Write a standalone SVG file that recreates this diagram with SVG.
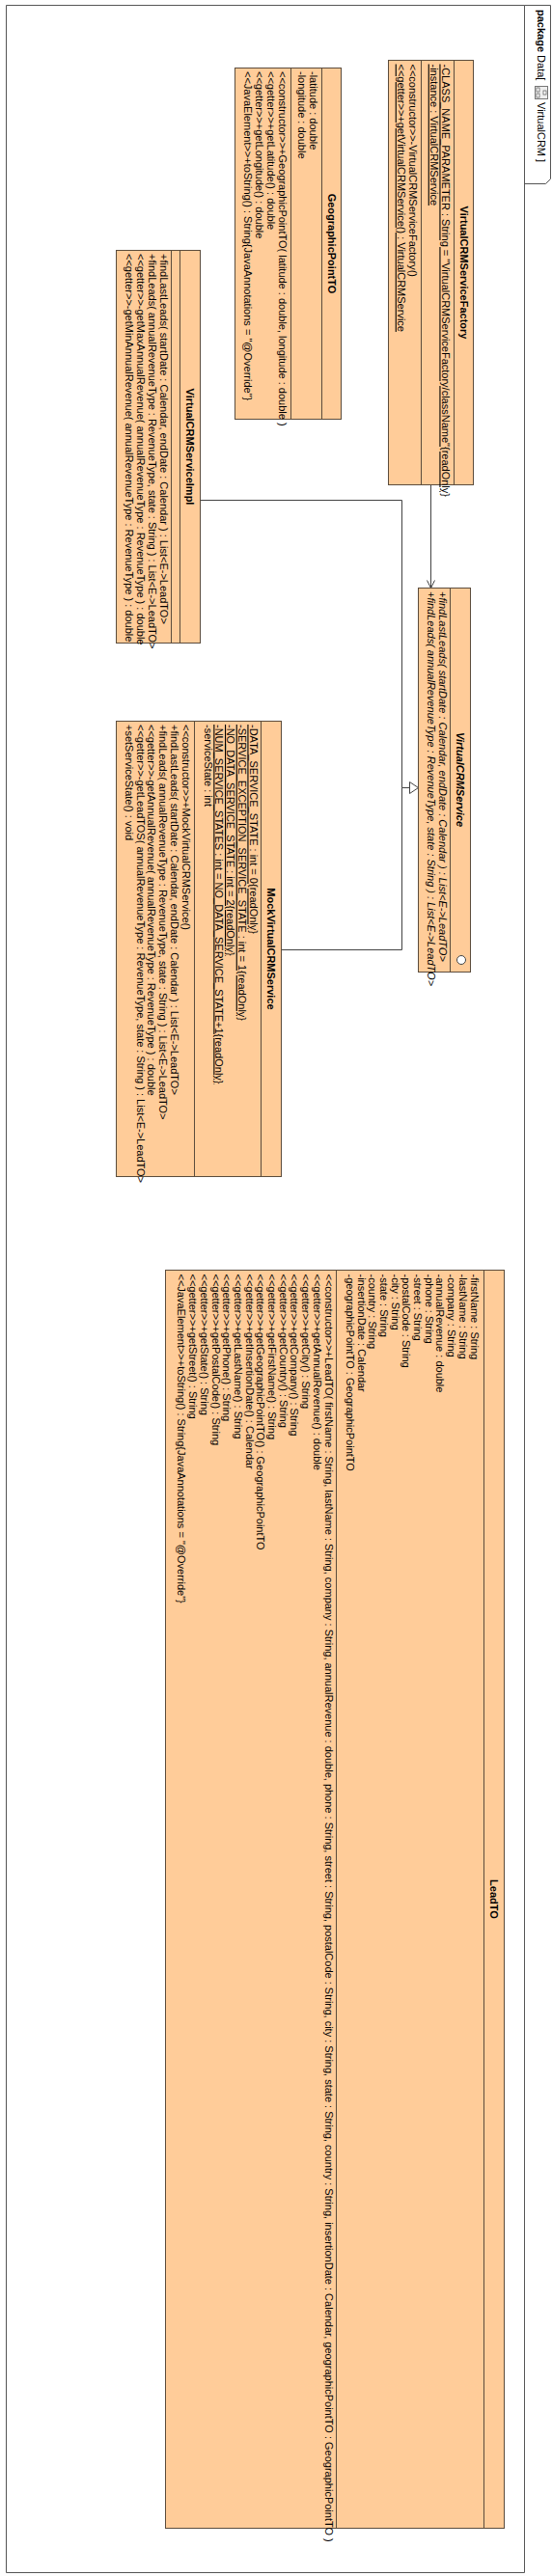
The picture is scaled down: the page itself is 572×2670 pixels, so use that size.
<svg xmlns="http://www.w3.org/2000/svg" width="572" height="2670" viewBox="0 0 572 2670">
<style>
.bg{fill:#fff}
.box{fill:#FFCC99;stroke:#5B4C3C;stroke-width:1}
.dv{stroke:#5B4C3C;stroke-width:1;fill:none}
.t{font-family:"Liberation Sans",Arial,sans-serif;font-size:11px;fill:#000}
.b{font-weight:bold}
.i{font-style:italic}
.u{text-decoration:underline}
.c{text-anchor:middle}
.ln{fill:none;stroke:#444;stroke-width:1}
.fr{fill:none;stroke:#555;stroke-width:1}
</style>
<defs>
<marker id="open" markerWidth="10" markerHeight="10" refX="9" refY="5" orient="auto" markerUnits="userSpaceOnUse">
<path d="M1,1 L9,5 L1,9" fill="none" stroke="#444" stroke-width="1"/>
</marker>
<marker id="tri" markerWidth="12" markerHeight="14" refX="10" refY="7" orient="auto" markerUnits="userSpaceOnUse">
<path d="M1,1 L10,7 L1,13 Z" fill="#fff" stroke="#444" stroke-width="1"/>
</marker>
</defs>
<rect class="bg" x="0" y="0" width="572" height="2670"/>
<g transform="translate(572,0) rotate(90)">
<g id="frame">
<path class="fr" d="M5.5,28.5 L5.5,565.5 L2666.5,565.5 L2666.5,28.5 Z"/>
<path class="fr" d="M5.5,28.5 L5.5,1.5 L185.5,1.5 L190.5,6.5 L190.5,28.5"/>
<text class="t" x="10" y="15"><tspan class="b">package</tspan> Data[</text>
<g transform="translate(89,4)">
<rect x="0.5" y="0.5" width="13" height="13" fill="#eee" stroke="#777"/>
<rect x="5" y="2" width="4" height="3" fill="#fff" stroke="#555" stroke-width="0.7"/>
<rect x="2" y="9" width="4" height="3" fill="#fff" stroke="#555" stroke-width="0.7"/>
<rect x="8" y="9" width="4" height="3" fill="#fff" stroke="#555" stroke-width="0.7"/>
</g>
<text class="t" x="106" y="15">VirtualCRM ]</text>
</g>
<g id="connectors">
<path class="ln" d="M502.5,125.5 L609.5,125.5" marker-end="url(#open)"/>
<path class="ln" d="M518.5,364.5 L518.5,155.5 L816.5,155.5 L816.5,138.5" marker-end="url(#tri)"/>
<path class="ln" d="M984.5,280.5 L984.5,155.5 L816.5,155.5"/>
</g>
<g id="VirtualCRMServiceFactory">
<rect class="box" x="62.5" y="81.5" width="440" height="88"/>
<path class="dv" d="M62.5,101.5 H502.5 M62.5,135.5 H502.5"/>
<text class="t b c" x="282.5" y="95.5">VirtualCRMServiceFactory</text>
<text class="t u" x="66.5" y="114.5">-CLASS_NAME_PARAMETER : String = "VirtualCRMServiceFactory/className"{readOnly}</text>
<text class="t u" x="66.5" y="126.2">-instance : VirtualCRMService</text>
<text class="t" x="66.5" y="148.5">&lt;&lt;constructor&gt;&gt;-VirtualCRMServiceFactory()</text>
<text class="t u" x="66.5" y="160.2">&lt;&lt;getter&gt;&gt;+getVirtualCRMService() : VirtualCRMService</text>
</g>
<g id="GeographicPointTO">
<rect class="box" x="70.5" y="218.5" width="364" height="110"/>
<path class="dv" d="M70.5,238.5 H434.5 M70.5,270.5 H434.5"/>
<text class="t b c" x="252.5" y="232.5">GeographicPointTO</text>
<text class="t" x="74" y="251.5">-latitude : double</text>
<text class="t" x="74" y="263.2">-longitude : double</text>
<text class="t" x="74" y="283.5">&lt;&lt;constructor&gt;&gt;+GeographicPointTO( latitude : double, longitude : double )</text>
<text class="t" x="74" y="295.2">&lt;&lt;getter&gt;&gt;+getLatitude() : double</text>
<text class="t" x="74" y="306.9">&lt;&lt;getter&gt;&gt;+getLongitude() : double</text>
<text class="t" x="74" y="318.6">&lt;&lt;JavaElement&gt;&gt;+toString() : String{JavaAnnotations = "@Override"}</text>
</g>
<g id="VirtualCRMServiceImpl">
<rect class="box" x="259.5" y="364.5" width="407" height="87"/>
<path class="dv" d="M259.5,385.5 H666.5 M259.5,394.5 H666.5"/>
<text class="t b c" x="463" y="379">VirtualCRMServiceImpl</text>
<text class="t" x="263" y="406.5">+findLastLeads( startDate : Calendar, endDate : Calendar ) : List&lt;E-&gt;LeadTO&gt;</text>
<text class="t" x="263" y="418.2">+findLeads( annualRevenueType : RevenueType, state : String ) : List&lt;E-&gt;LeadTO&gt;</text>
<text class="t" x="263" y="429.9">&lt;&lt;getter&gt;&gt;-getMaxAnnualRevenue( annualRevenueType : RevenueType ) : double</text>
<text class="t" x="263" y="441.6">&lt;&lt;getter&gt;&gt;-getMinAnnualRevenue( annualRevenueType : RevenueType ) : double</text>
</g>
<g id="VirtualCRMService">
<rect class="box" x="609.5" y="84.5" width="398" height="54"/>
<path class="dv" d="M609.5,105.5 H1007.5"/>
<text class="t b i c" x="808" y="99">VirtualCRMService</text>
<circle cx="995" cy="94" r="4.5" fill="#fff" stroke="#444"/>
<text class="t i" x="613" y="117.5">+findLastLeads( startDate : Calendar, endDate : Calendar ) : List&lt;E-&gt;LeadTO&gt;</text>
<text class="t i" x="613" y="129.2">+findLeads( annualRevenueType : RevenueType, state : String ) : List&lt;E-&gt;LeadTO&gt;</text>
</g>
<g id="MockVirtualCRMService">
<rect class="box" x="747.5" y="280.5" width="472" height="171"/>
<path class="dv" d="M747.5,301.5 H1219.5 M747.5,370.5 H1219.5"/>
<text class="t b c" x="983.5" y="295">MockVirtualCRMService</text>
<text class="t u" x="751" y="313.5">-DATA_SERVICE_STATE : int = 0{readOnly}</text>
<text class="t u" x="751" y="325.2">-SERVICE_EXCEPTION_SERVICE_STATE : int = 1{readOnly}</text>
<text class="t u" x="751" y="336.9">-NO_DATA_SERVICE_STATE : int = 2{readOnly}</text>
<text class="t u" x="751" y="348.6">-NUM_SERVICE_STATES : int = NO_DATA_SERVICE_STATE+1{readOnly}</text>
<text class="t" x="751" y="360.3">-serviceState : int</text>
<text class="t" x="751" y="383.5">&lt;&lt;constructor&gt;&gt;+MockVirtualCRMService()</text>
<text class="t" x="751" y="395.2">+findLastLeads( startDate : Calendar, endDate : Calendar ) : List&lt;E-&gt;LeadTO&gt;</text>
<text class="t" x="751" y="406.9">+findLeads( annualRevenueType : RevenueType, state : String ) : List&lt;E-&gt;LeadTO&gt;</text>
<text class="t" x="751" y="418.6">&lt;&lt;getter&gt;&gt;-getAnnualRevenue( annualRevenueType : RevenueType ) : double</text>
<text class="t" x="751" y="430.3">&lt;&lt;getter&gt;&gt;-getLeadTOS( annualRevenueType : RevenueType, state : String ) : List&lt;E-&gt;LeadTO&gt;</text>
<text class="t" x="751" y="442">+setServiceState() : void</text>
</g>
<g id="LeadTO">
<rect class="box" x="1316.5" y="49.5" width="1304" height="351"/>
<path class="dv" d="M1316.5,70.5 H2620.5 M1316.5,223.5 H2620.5"/>
<text class="t b c" x="1968.5" y="64">LeadTO</text>
<text class="t" x="1320.5" y="84.5">-firstName : String</text>
<text class="t" x="1320.5" y="96.2">-lastName : String</text>
<text class="t" x="1320.5" y="107.9">-company : String</text>
<text class="t" x="1320.5" y="119.6">-annualRevenue : double</text>
<text class="t" x="1320.5" y="131.3">-phone : String</text>
<text class="t" x="1320.5" y="143">-street : String</text>
<text class="t" x="1320.5" y="154.7">-postalCode : String</text>
<text class="t" x="1320.5" y="166.4">-city : String</text>
<text class="t" x="1320.5" y="178.1">-state : String</text>
<text class="t" x="1320.5" y="189.8">-country : String</text>
<text class="t" x="1320.5" y="201.5">-insertionDate : Calendar</text>
<text class="t" x="1320.5" y="213.2">-geographicPointTO : GeographicPointTO</text>
<text class="t" x="1320.5" y="235.5">&lt;&lt;constructor&gt;&gt;+LeadTO( firstName : String, lastName : String, company : String, annualRevenue : double, phone : String, street : String, postalCode : String, city : String, state : String, country : String, insertionDate : Calendar, geographicPointTO : GeographicPointTO )</text>
<text class="t" x="1320.5" y="247.2">&lt;&lt;getter&gt;&gt;+getAnnualRevenue() : double</text>
<text class="t" x="1320.5" y="258.9">&lt;&lt;getter&gt;&gt;+getCity() : String</text>
<text class="t" x="1320.5" y="270.6">&lt;&lt;getter&gt;&gt;+getCompany() : String</text>
<text class="t" x="1320.5" y="282.3">&lt;&lt;getter&gt;&gt;+getCountry() : String</text>
<text class="t" x="1320.5" y="294">&lt;&lt;getter&gt;&gt;+getFirstName() : String</text>
<text class="t" x="1320.5" y="305.7">&lt;&lt;getter&gt;&gt;+getGeographicPointTO() : GeographicPointTO</text>
<text class="t" x="1320.5" y="317.4">&lt;&lt;getter&gt;&gt;+getInsertionDate() : Calendar</text>
<text class="t" x="1320.5" y="329.1">&lt;&lt;getter&gt;&gt;+getLastName() : String</text>
<text class="t" x="1320.5" y="340.8">&lt;&lt;getter&gt;&gt;+getPhone() : String</text>
<text class="t" x="1320.5" y="352.5">&lt;&lt;getter&gt;&gt;+getPostalCode() : String</text>
<text class="t" x="1320.5" y="364.2">&lt;&lt;getter&gt;&gt;+getState() : String</text>
<text class="t" x="1320.5" y="375.9">&lt;&lt;getter&gt;&gt;+getStreet() : String</text>
<text class="t" x="1320.5" y="387.6">&lt;&lt;JavaElement&gt;&gt;+toString() : String{JavaAnnotations = "@Override"}</text>
</g>
</g>
</svg>
